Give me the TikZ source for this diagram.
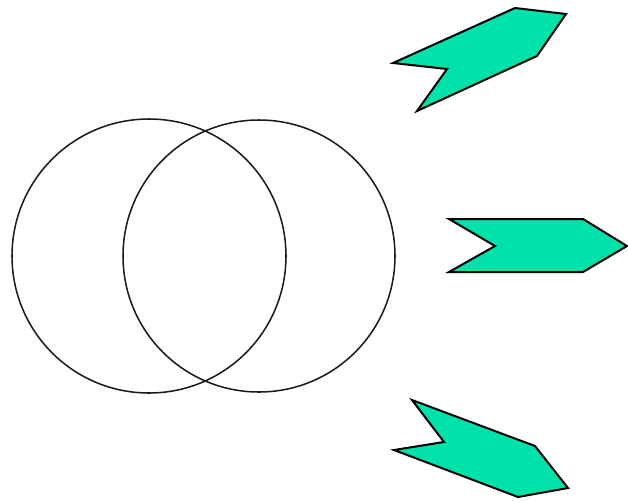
\documentclass[tikz,border=0pt]{standalone}
\usepackage{xcolor}
\usepackage{tikz}
\definecolor{RingInk}{HTML}{1A1A1A}
\definecolor{ChevronFill}{HTML}{00E2A9}

\begin{document}
\begin{tikzpicture}[
  x=0.03cm, y=-0.03cm,
  ring/.style={draw=RingInk,line width=1.3pt},
  chevron/.style={draw=black,line width=1.7pt,line join=miter,fill=ChevronFill},
]
  \useasboundingbox (0,0) rectangle (628,501);

  % two overlapping circles
  \draw[ring] (149,256) circle[radius=137];
  \draw[ring] (259,256) circle[radius=136];

  % upper chevron, pointing up-right
  \draw[chevron] (393,63) -- (515,8) -- (566,14) -- (537,56) -- (417,111) -- (447,69) -- cycle;
  % middle chevron, pointing right
  \draw[chevron] (449,219) -- (583,219) -- (627,246) -- (583,272) -- (449,272) -- (495,246) -- cycle;
  % lower chevron, pointing down-right
  \draw[chevron] (412,400) -- (535,446) -- (568,488) -- (518,497) -- (394,450) -- (444,442) -- cycle;
\end{tikzpicture}
\end{document}
